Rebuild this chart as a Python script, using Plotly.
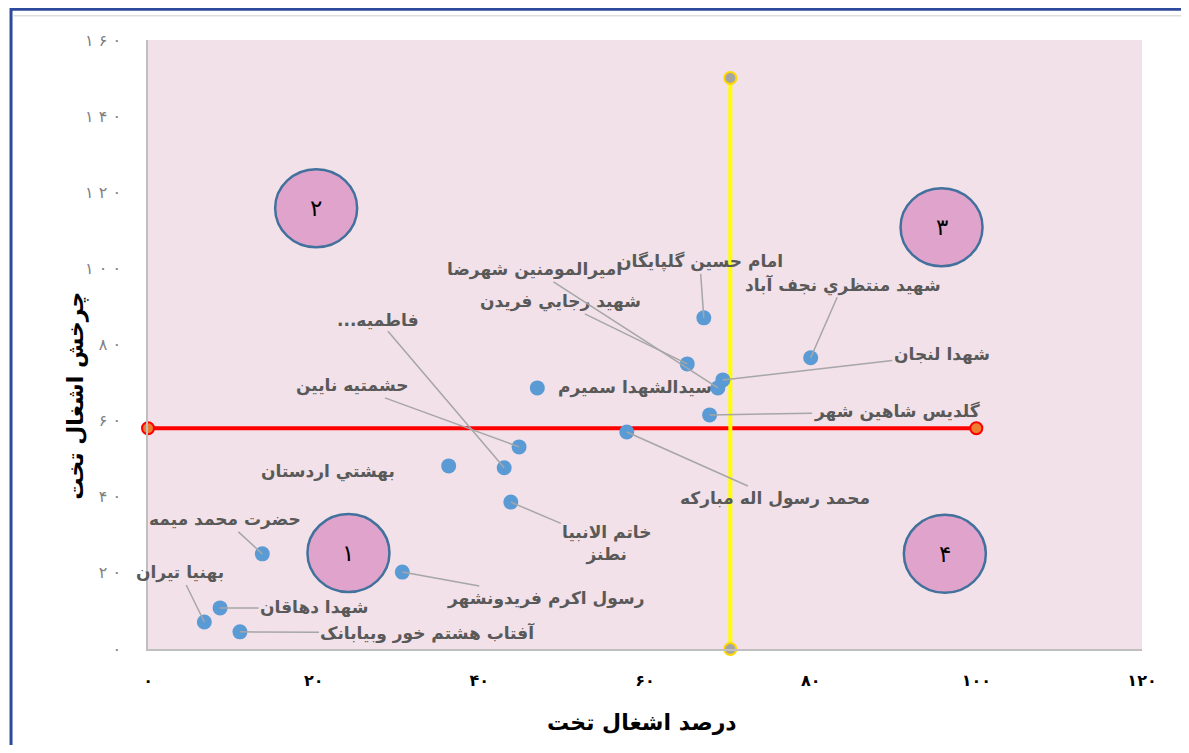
import plotly.graph_objects as go

# ---------------- data ----------------
hospitals = [
    "امام حسین گلپایگان", "شهید رجايي فريدن", "اميرالمومنين شهرضا", "شهدا لنجان",
    "شهید منتظري نجف آباد", "سيدالشهدا سميرم", "گلديس شاهين شهر", "محمد رسول اله مباركه",
    "حشمتيه نايين", "فاطميه...\u200f", "بهشتي اردستان", "خاتم الانبيا<br>نطنز",
    "رسول اكرم فريدونشهر", "حضرت محمد ميمه", "بهنيا تيران", "شهدا دهاقان",
    "آفتاب هشتم خور وبيابانک",
]
occupancy = [67.1, 65.1, 68.8, 69.4, 80.0, 47.0, 67.8, 57.8, 44.8, 43.0, 36.3, 43.8,
             30.7, 13.8, 6.8, 8.7, 11.1]
turnover = [87.0, 74.9, 68.6, 70.7, 76.5, 68.6, 61.5, 57.0, 53.1, 47.6, 48.1, 38.6,
            20.2, 25.0, 7.1, 10.8, 4.5]

# reference lines
hline_x = [0, 100]
hline_y = [58, 58]
vline_x = [70.3, 70.3]
vline_y = [0, 150]

# quadrant badges
quad_labels = ["۱", "۲", "۳", "۴"]
quad_x = [24.2, 20.3, 95.8, 96.2]
quad_y = [25.2, 115.8, 110.8, 25.0]

x_ticks = [0, 20, 40, 60, 80, 100, 120]
x_ticktext = ["۰", "۲۰", "۴۰", "۶۰", "۸۰", "۱۰۰", "۱۲۰"]
y_ticks = [0, 20, 40, 60, 80, 100, 120, 140, 160]
y_ticktext = ["۰", "۲ ۰", "۴ ۰", "۶ ۰", "۸ ۰", "۱ ۰ ۰", "۱ ۲ ۰", "۱ ۴ ۰", "۱ ۶ ۰"]

# label offsets in pixels (label centre relative to point)
label_dx = [-4, -127, -183, 219, 32, 98, 187, 148, -167, -126, -121, 96, 143, -37, -24, 94, 188]
label_dy = [-56, -62, -118, -25, -73, 0, -3, 66, -61, -148, 6, 41, 26, -34, -49, 0, 1]
label_leader = [True, True, True, True, True, False, True, True, True, True, False, True,
                True, True, True, True, True]

FONT = "DejaVu Sans"

fig = go.Figure()

fig.add_trace(go.Scatter(
    x=hline_x, y=hline_y, mode="lines+markers",
    line=dict(color="#ff0000", width=4),
    marker=dict(size=12, color="#ed7d31", line=dict(color="#ff0000", width=2)),
    hoverinfo="skip", showlegend=False, cliponaxis=False))
fig.add_trace(go.Scatter(
    x=vline_x, y=vline_y, mode="lines+markers",
    line=dict(color="#ffff00", width=4),
    marker=dict(size=12, color="#a5a5a5", line=dict(color="#ffd700", width=2)),
    hoverinfo="skip", showlegend=False, cliponaxis=False))
fig.add_trace(go.Scatter(
    x=occupancy, y=turnover, mode="markers",
    marker=dict(size=15, color="#5b9bd5"),
    text=hospitals, showlegend=False))

annotations = []
for name, xv, yv, dx, dy, lead in zip(hospitals, occupancy, turnover, label_dx, label_dy, label_leader):
    base = dict(x=xv, y=yv, text=name, xref="x", yref="y",
                font=dict(family=FONT, size=17, color="#595959", weight="bold"), align="center")
    if lead:
        base.update(showarrow=True, ax=dx, ay=dy, arrowhead=0, arrowwidth=1.5,
                    arrowcolor="#a6a6a6", standoff=0)
    else:
        base.update(showarrow=False, xshift=dx, yshift=-dy)
    annotations.append(base)

shapes = []
for lab, cx, cy in zip(quad_labels, quad_x, quad_y):
    shapes.append(dict(type="circle", xref="x", yref="y", xsizemode="pixel", ysizemode="pixel",
                       xanchor=cx, yanchor=cy, x0=-41, x1=41, y0=-39, y1=39,
                       fillcolor="#e0a3cb", line=dict(color="#41719c", width=2.5), layer="above"))
    annotations.append(dict(x=cx, y=cy, xref="x", yref="y", text=lab, showarrow=False,
                            font=dict(family=FONT, size=23, color="#000000")))

# frame
shapes.append(dict(type="rect", xref="paper", yref="paper", x0=-0.1378, x1=1.2, y0=-0.3, y1=1.0505,
                   line=dict(color="#2e4a9c", width=3), fillcolor="rgba(0,0,0,0)", layer="below"))
shapes.append(dict(type="line", xref="paper", yref="paper", x0=-0.136, x1=1.2, y0=1.040, y1=1.040,
                   line=dict(color="#dddddd", width=1.5)))

# axis titles
annotations.append(dict(x=0.497, y=-0.12, xref="paper", yref="paper", yanchor="middle",
                        text="درصد اشغال تخت", showarrow=False,
                        font=dict(family=FONT, size=22, color="#000000", weight="bold")))
annotations.append(dict(x=-0.087, y=0.415, xref="paper", yref="paper",
                        text="چرخش اشغال تخت", showarrow=False, textangle=-90,
                        font=dict(family=FONT, size=22, color="#000000", weight="bold")))

fig.update_layout(
    width=1173, height=737,
    margin=dict(l=140, r=39, t=32, b=96),
    paper_bgcolor="#ffffff", plot_bgcolor="#f2e1e8",
    shapes=shapes, annotations=annotations, showlegend=False,
    xaxis=dict(range=[0, 120], tickvals=x_ticks, ticktext=x_ticktext, showgrid=False,
               zeroline=False, showline=True, linecolor="#bfbfbf", linewidth=1.5,
               ticks="", ticklabelstandoff=16,
               tickfont=dict(family=FONT, size=16, color="#000000", weight="bold")),
    yaxis=dict(range=[0, 160], tickvals=y_ticks, ticktext=y_ticktext, showgrid=False,
               zeroline=False, showline=True, linecolor="#bfbfbf", linewidth=1.5,
               ticks="", ticklabelstandoff=22,
               tickfont=dict(family=FONT, size=16, color="#7f7f7f")),
)

fig.write_html("out.html")
